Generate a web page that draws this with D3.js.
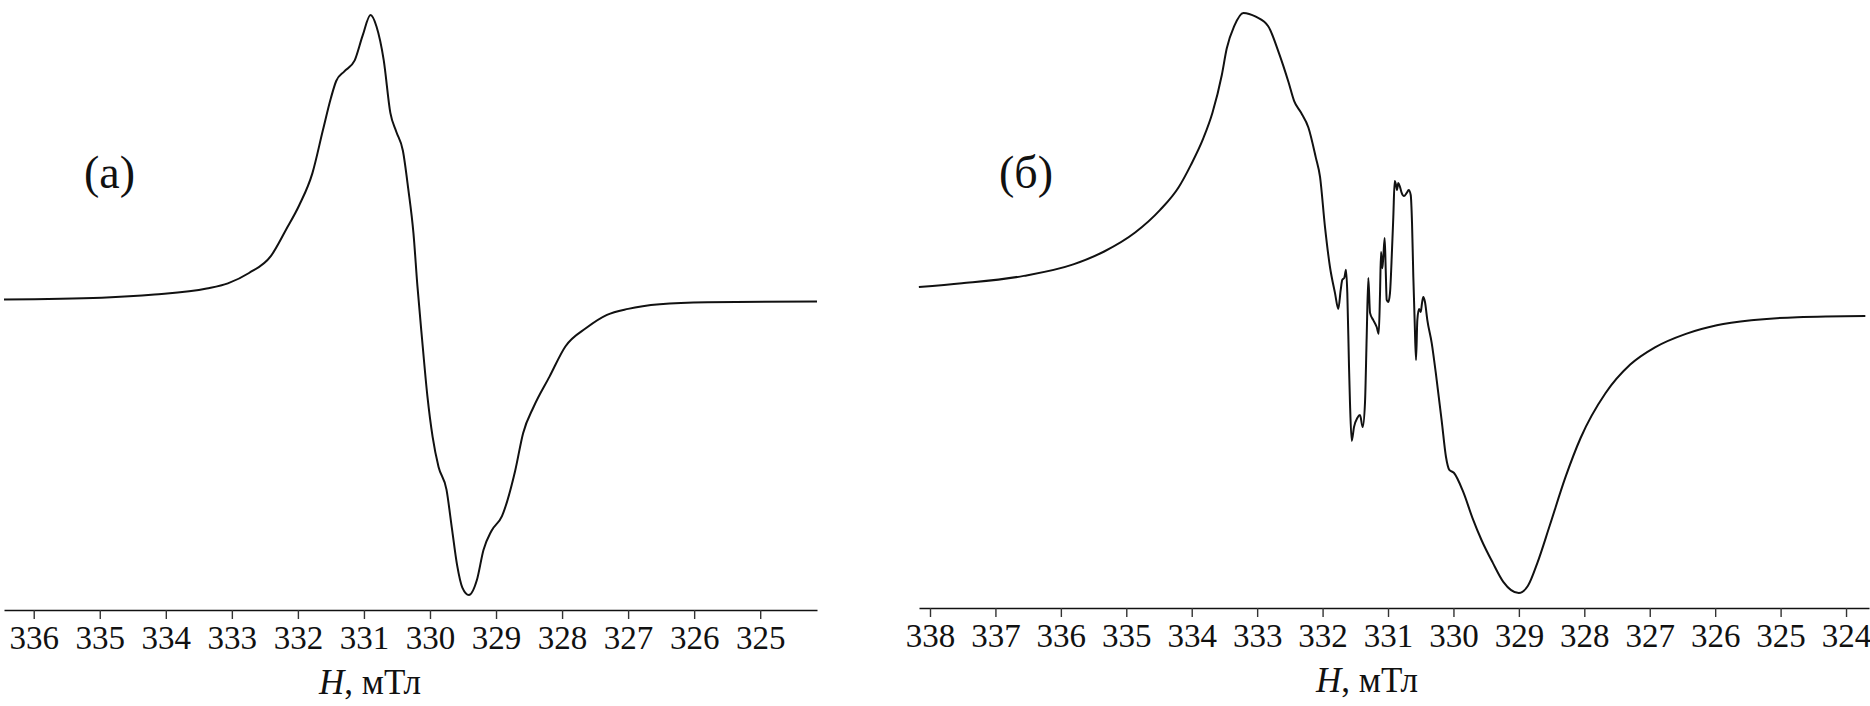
<!DOCTYPE html>
<html>
<head>
<meta charset="utf-8">
<script src="https://cdn.jsdelivr.net/npm/d3@7"></script>
<style>
  html, body { margin: 0; padding: 0; background: #fff; }
  svg { display: block; }
  svg text { font-family: "Liberation Serif", "DejaVu Serif", serif; }
</style>
</head>
<body>
<div id="chart"></div>
<script>
// ---- Data (EPR spectra, normalized intensity, % of max) ----
const fieldA = [336.45, 334.97, 334.17, 333.38, 333.06, 332.74, 332.41, 332.18, 331.98, 331.78,
  331.62, 331.50, 331.42, 331.30, 331.14, 331.02, 330.90, 330.81, 330.70, 330.60,
  330.51, 330.41, 330.33, 330.25, 330.19, 330.12, 330.04, 329.96, 329.87, 329.75,
  329.67, 329.59, 329.51, 329.41, 329.29, 329.19, 329.07, 328.91, 328.71, 328.59,
  328.43, 328.19, 327.95, 327.63, 327.32, 327.00, 326.52, 325.80, 324.14];
const signalA = [0.9, 1.5, 2.6, 4.7, 6.5, 10.1, 16.0, 25.2, 33.7, 44.9,
  60.0, 71.1, 77.0, 80.3, 84.2, 92.8, 100, 96.0, 84.2, 65.9,
  59.3, 52.7, 39.6, 23.9, 5.5, -12.9, -32.6, -47.0, -57.5, -65.4,
  -78.5, -91.6, -99.5, -102.1, -96.9, -86.4, -79.8, -74.6, -58.8, -45.7,
  -36.5, -26.0, -15.5, -9.0, -4.5, -2.4, -0.8, -0.1, 0.2];

const fieldB = [338.17, 337.512, 336.566, 335.810, 335.338, 334.865, 334.486, 334.202, 334.014, 333.825,
  333.682, 333.540, 333.465, 333.351, 333.210, 333.021, 332.831, 332.671, 332.519, 332.434,
  332.330, 332.217, 332.104, 332.039, 331.963, 331.887, 331.810, 331.760, 331.723, 331.699,
  331.668, 331.642, 331.622, 331.596, 331.581, 331.555, 331.520, 331.469, 331.428, 331.387,
  331.352, 331.326, 331.301, 331.275, 331.225, 331.173, 331.142, 331.122, 331.107, 331.087,
  331.072, 331.051, 331.035, 331.020, 330.996, 330.970, 330.939, 330.919, 330.898, 330.878,
  330.863, 330.843, 330.817, 330.791, 330.756, 330.714, 330.684, 330.653, 330.633, 330.613,
  330.592, 330.572, 330.552, 330.526, 330.500, 330.480, 330.461, 330.435, 330.399, 330.332,
  330.256, 330.179, 330.114, 330.063, 329.994, 329.852, 329.710, 329.568, 329.398, 329.238,
  329.001, 328.859, 328.717, 328.527, 328.292, 328.055, 327.677, 327.298, 326.920, 326.447,
  325.975, 325.406, 324.744, 323.705];
const signalB = [4.5, 5.8, 8.4, 12.4, 16.9, 23.5, 31.3, 39.2, 47.0, 56.2,
  65.3, 78.4, 87.6, 95.4, 100, 98.7, 95.4, 86.3, 75.8, 69.3,
  65.3, 60.1, 49.7, 42.9, 25.4, 11.5, 2.4, -3.1, 3.5, 7.0,
  7.7, 10.5, 2.4, -23.3, -35.9, -49.1, -44.3, -41.1, -40.1, -44.3,
  -35.9, -12.9, 7.7, -4.5, -7.0, -9.4, -11.8, 2.4, 16.7, 11.1,
  15.0, 21.6, 10.5, 0.0, -0.7, 2.4, 17.4, 28.9, 41.5, 40.1,
  38.3, 40.8, 39.4, 37.3, 36.2, 37.3, 38.3, 36.6, 26.8, 8.0,
  -8.0, -20.9, -7.0, -3.1, -4.2, -1.0, 1.0, -0.7, -7.0, -15.0,
  -27.9, -42.2, -54.7, -59.2, -60.2, -66.8, -75.9, -83.8, -91.6, -98.2,
  -102.1, -99.5, -91.6, -78.5, -62.0, -48.0, -32.5, -22.5, -16.5, -11.8,
  -8.8, -7.0, -6.0, -5.6];

const ticksA = [336, 335, 334, 333, 332, 331, 330, 329, 328, 327, 326, 325];
const ticksB = [338, 337, 336, 335, 334, 333, 332, 331, 330, 329, 328, 327, 326, 325, 324];
const panelLabels = ["(а)", "(б)"];
const axisTitleItalic = "H";
const axisTitleRest = ", мТл";

// ---- Drawing ----
const W = 1870, H = 706;
const svg = d3.select("#chart").append("svg")
  .attr("width", W).attr("height", H)
  .style("background", "#fff");

const FONT = "Liberation Serif, DejaVu Serif, serif";

const panels = [
  { field: fieldA, signal: signalA, ticks: ticksA, label: panelLabels[0],
    xDomain: [336.45, 324.14], xRange: [4, 817], axisY: 610,
    yDomain: [-102.1, 100], yRange: [595, 15], labelX: 84, labelY: 188, titleX: 370, titleY: 694 },
  { field: fieldB, signal: signalB, ticks: ticksB, label: panelLabels[1],
    xDomain: [338.168, 323.649], xRange: [919, 1869], axisY: 608,
    yDomain: [-102.1, 100], yRange: [593, 13], labelX: 999, labelY: 188, titleX: 1367, titleY: 692 }
];

panels.forEach(p => {
  const x = d3.scaleLinear().domain(p.xDomain).range(p.xRange);
  const y = d3.scaleLinear().domain(p.yDomain).range(p.yRange);

  const axis = d3.axisBottom(x)
    .tickValues(p.ticks)
    .tickFormat(d3.format("d"))
    .tickSizeInner(9)
    .tickSizeOuter(0)
    .tickPadding(7);

  const g = svg.append("g")
    .attr("transform", `translate(0,${p.axisY})`)
    .call(axis);
  g.attr("font-family", FONT);
  g.select(".domain").attr("stroke", "#111").attr("stroke-width", 1.6);
  g.selectAll(".tick line").attr("stroke", "#333").attr("stroke-width", 1.4);
  g.selectAll(".tick text")
    .attr("fill", "#111")
    .attr("font-family", FONT)
    .attr("font-size", 33);

  const pts = p.field.map((f, i) => [f, p.signal[i]]);
  const line = d3.line()
    .x(d => x(d[0]))
    .y(d => y(d[1]))
    .curve(d3.curveMonotoneX);

  svg.append("path")
    .datum(pts)
    .attr("fill", "none")
    .attr("stroke", "#111")
    .attr("stroke-width", 2)
    .attr("stroke-linejoin", "round")
    .attr("d", line);

  svg.append("text")
    .attr("x", p.labelX).attr("y", p.labelY)
    .attr("font-family", FONT)
    .attr("font-size", 46)
    .attr("fill", "#111")
    .text(p.label);

  const t = svg.append("text")
    .attr("x", p.titleX).attr("y", p.titleY)
    .attr("text-anchor", "middle")
    .attr("font-family", FONT)
    .attr("font-size", 35)
    .attr("fill", "#111");
  t.append("tspan").attr("font-style", "italic").text(axisTitleItalic);
  t.append("tspan").text(axisTitleRest);
});
</script>
</body>
</html>
